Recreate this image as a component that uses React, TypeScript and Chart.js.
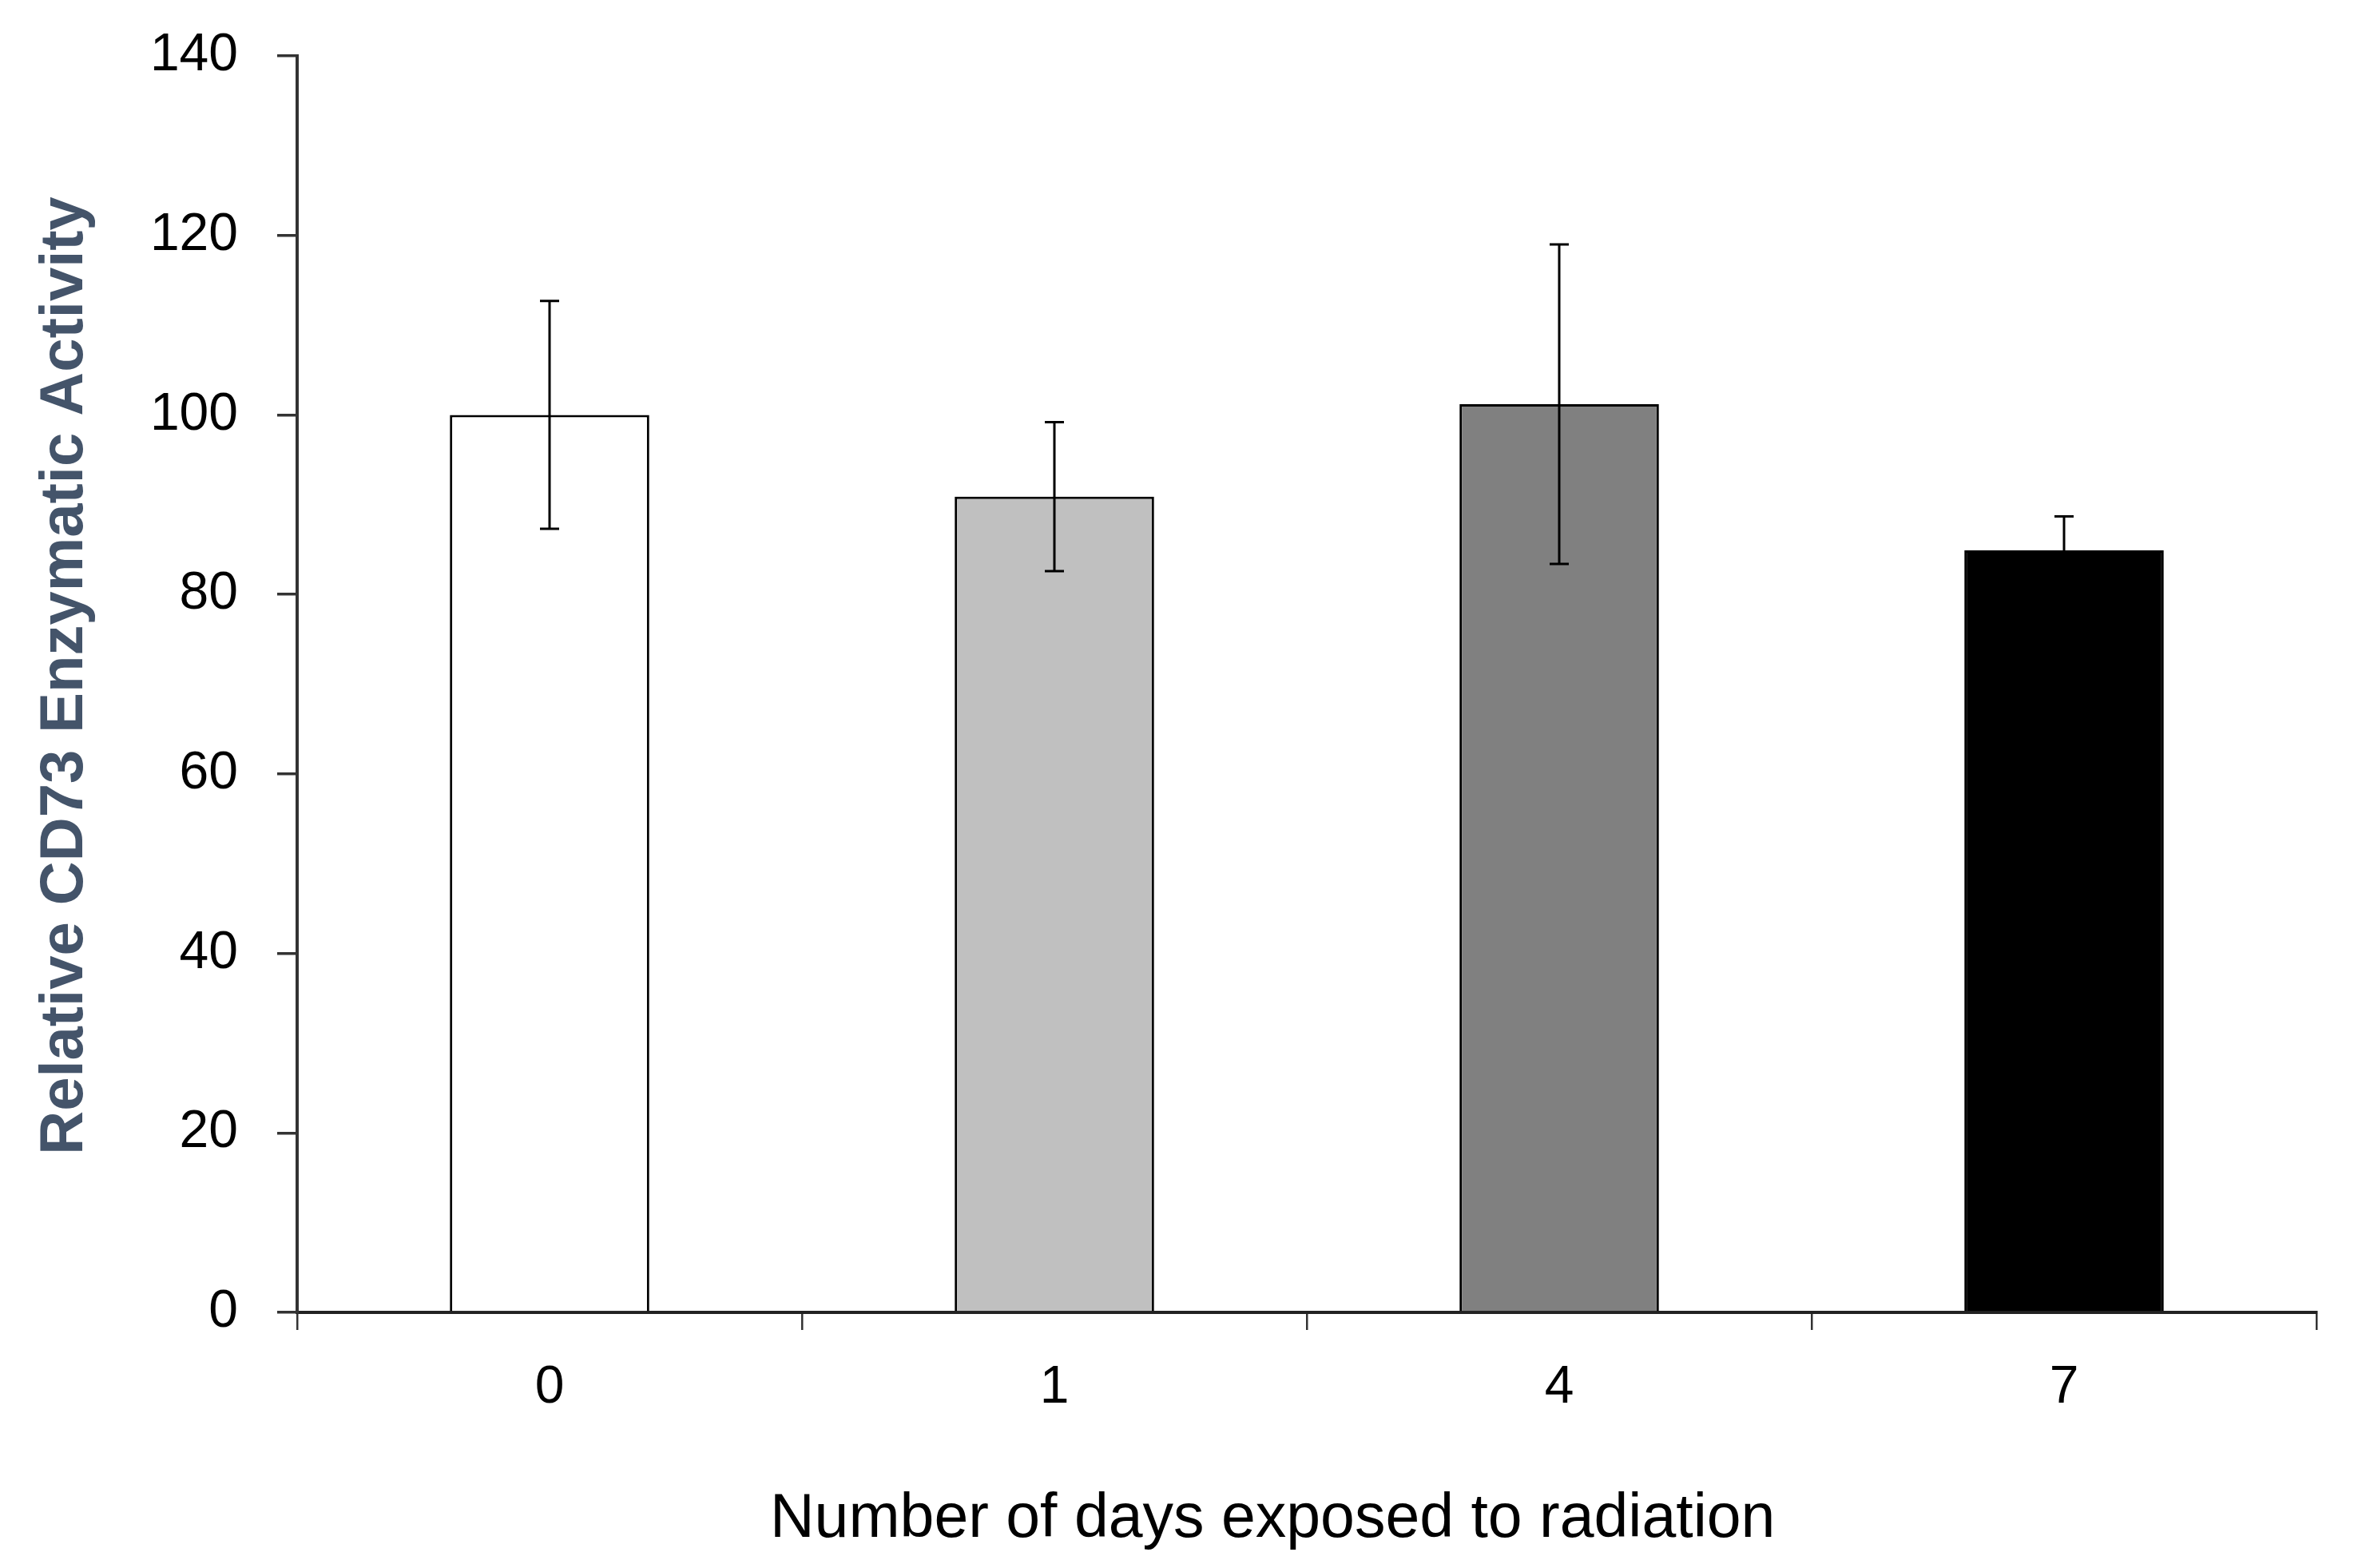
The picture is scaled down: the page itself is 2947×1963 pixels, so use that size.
import React, { useEffect, useRef } from "react";
import { Chart, registerables } from "chart.js";

Chart.register(...registerables);

const categories = ["0", "1", "4", "7"];
const activity = [100, 90.9, 101.2, 84.9];
const errors = [12.7, 8.3, 17.8, 3.8];
const barColors = ["#FFFFFF", "#C0C0C0", "#808080", "#000000"];
const yTicks = [0, 20, 40, 60, 80, 100, 120, 140];
const xTitle = "Number of days exposed to radiation";
const yTitle = "Relative CD73 Enzymatic Activity";

const W = 2947;
const H = 1963;

const errorBarPlugin = {
  id: "errorBars",
  afterDatasetsDraw(chart: any) {
    const { ctx, scales } = chart;
    const meta = chart.getDatasetMeta(0);
    ctx.save();
    ctx.strokeStyle = "#000000";
    ctx.lineWidth = 3;
    meta.data.forEach((el: any, i: number) => {
      const x = el.x;
      const yTop = scales.y.getPixelForValue(activity[i] + errors[i]);
      const yBot = scales.y.getPixelForValue(activity[i] - errors[i]);
      const cap = 12;
      ctx.beginPath();
      ctx.moveTo(x, yTop);
      ctx.lineTo(x, yBot);
      ctx.moveTo(x - cap, yTop);
      ctx.lineTo(x + cap, yTop);
      ctx.moveTo(x - cap, yBot);
      ctx.lineTo(x + cap, yBot);
      ctx.stroke();
    });
    ctx.restore();
  },
};

export default function App() {
  const ref = useRef<HTMLCanvasElement | null>(null);

  useEffect(() => {
    if (!ref.current) return;
    const chart = new Chart(ref.current, {
      type: "bar",
      data: {
        labels: categories,
        datasets: [
          {
            data: activity,
            backgroundColor: barColors,
            borderColor: "#000000",
            borderWidth: 3,
            barPercentage: 0.395,
            categoryPercentage: 1,
          },
        ],
      },
      options: {
        responsive: false,
        animation: false,
        devicePixelRatio: 1,
        layout: { padding: { top: 70, right: 47, bottom: 0, left: 0 } },
        plugins: {
          legend: { display: false },
          tooltip: { enabled: false },
        },
        scales: {
          x: {
            grid: {
              display: true,
              drawOnChartArea: false,
              drawTicks: true,
              tickLength: 22,
              color: "#333333",
              lineWidth: 2.5,
              offset: true,
            },
            border: { display: true, color: "#222222", width: 4 },
            ticks: {
              color: "#000000",
              padding: 33,
              font: { family: "'Liberation Sans', Arial, sans-serif", size: 66 },
            },
            title: {
              display: true,
              text: xTitle + "    ",
              color: "#000000",
              font: { family: "'Liberation Sans', Arial, sans-serif", size: 77 },
              padding: { top: 0, bottom: 14 },
            },
            afterFit(scale: any) {
              scale.height = 320;
            },
          },
          y: {
            min: 0,
            max: 140,
            afterBuildTicks(scale: any) {
              scale.ticks = yTicks.map((v) => ({ value: v }));
            },
            grid: {
              display: true,
              drawOnChartArea: false,
              drawTicks: true,
              tickLength: 25,
              color: "#333333",
              lineWidth: 3.5,
            },
            border: { display: true, color: "#333333", width: 4 },
            ticks: {
              color: "#000000",
              padding: 49,
              font: { family: "'Liberation Sans', Arial, sans-serif", size: 66 },
            },
            title: {
              display: true,
              text: " " + yTitle,
              color: "#44546A",
              font: {
                family: "'Liberation Sans', Arial, sans-serif",
                size: 76,
                weight: "bold",
              },
              padding: { top: 36, bottom: 0 },
            },
            afterFit(scale: any) {
              scale.width = 372;
              scale.paddingTop = 40;
              scale.paddingBottom = 40;
            },
          },
        },
      },
      plugins: [errorBarPlugin],
    } as any);
    return () => chart.destroy();
  }, []);

  return (
    <div
      style={{
        position: "fixed",
        left: 0,
        top: 0,
        width: W,
        height: H,
        background: "#FFFFFF",
      }}
    >
      <canvas ref={ref} width={W} height={H} style={{ width: W, height: H }} />
    </div>
  );
}
